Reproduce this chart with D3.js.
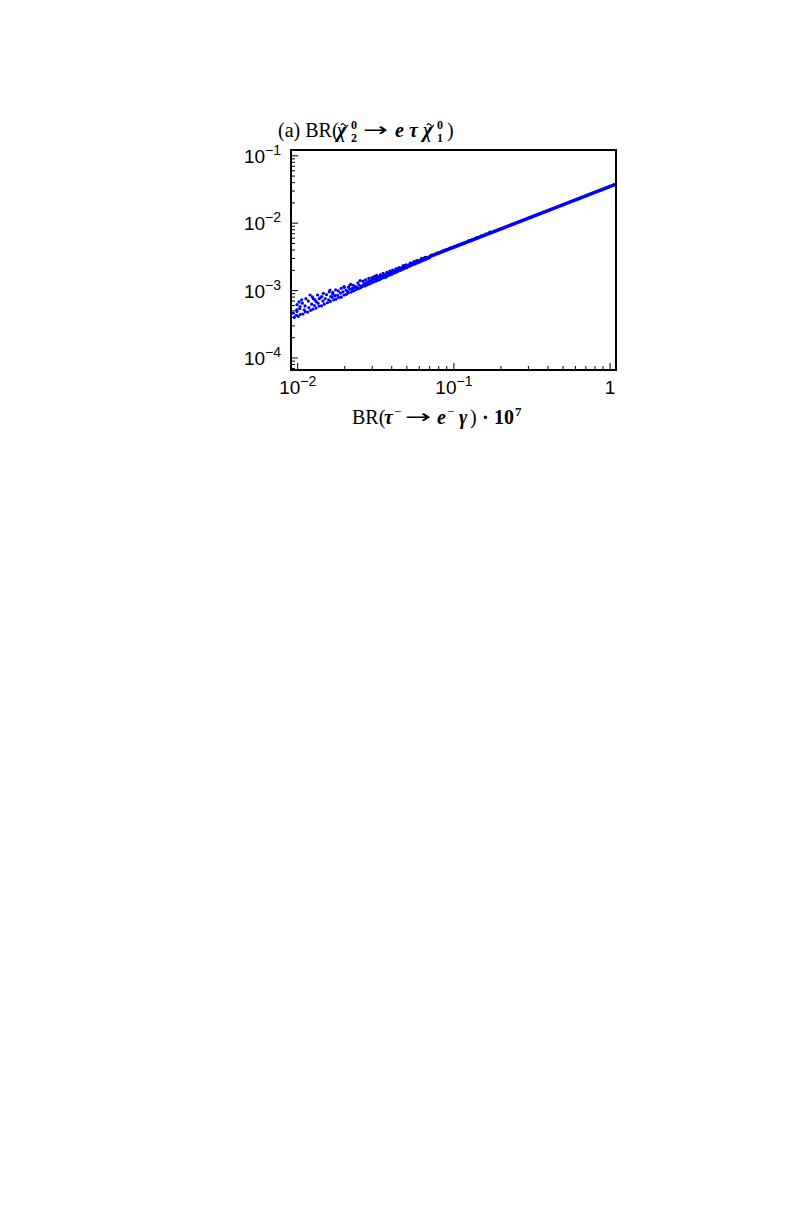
<!DOCTYPE html>
<html><head><meta charset="utf-8">
<script src="https://cdn.jsdelivr.net/npm/d3@7"></script>
<style>body{margin:0;background:#fff}</style>
</head><body>
<svg id="c" width="785" height="1215"></svg>
<script>
// ---- data ----
const xDomain = [0.00906, 1.091];
const yDomain = [6.64e-5, 0.1219];
const xMajor = [0.01, 0.1, 1];
const xTickBase = ["10", "10", "1"];
const xTickExp = ["\u22122", "\u22121", ""];
const yMajor = [1e-4, 1e-3, 1e-2, 1e-1];
const yTickBase = ["10", "10", "10", "10"];
const yTickExp = ["\u22124", "\u22123", "\u22122", "\u22121"];

const lowerBand = [
 [0.0095,4.0e-4],[0.0098,4.3e-4],[0.0101,4.15e-4],[0.0104,4.45e-4],[0.0108,4.5e-4],[0.0112,4.85e-4],
 [0.0116,4.8e-4],[0.0121,5.1e-4],[0.0125,5.3e-4],[0.0131,5.5e-4],[0.0137,5.9e-4],[0.0142,5.95e-4],
 [0.0148,6.3e-4],[0.0155,6.6e-4],[0.0162,6.9e-4],[0.017,7.3e-4],[0.0176,7.5e-4],[0.0183,7.9e-4],
 [0.019,8.0e-4],[0.0198,8.6e-4],[0.0205,8.8e-4],[0.0212,9.3e-4],[0.022,9.5e-4],[0.0228,9.9e-4],
 [0.0236,1.03e-3],[0.0245,1.07e-3],[0.0253,1.1e-3],[0.026,1.15e-3],[0.027,1.17e-3],[0.0278,1.22e-3],
 [0.0287,1.25e-3],[0.0296,1.3e-3],[0.0305,1.34e-3],[0.0315,1.38e-3],[0.0325,1.43e-3],[0.0335,1.46e-3],
 [0.0345,1.52e-3],[0.0356,1.56e-3],[0.0367,1.61e-3],[0.0378,1.66e-3],[0.039,1.71e-3],[0.0402,1.76e-3],
 [0.0415,1.83e-3],[0.0428,1.88e-3],[0.044,1.95e-3],[0.0455,2.0e-3],[0.047,2.07e-3],[0.0485,2.14e-3],
 [0.05,2.2e-3],[0.0515,2.28e-3],[0.053,2.33e-3],[0.0548,2.42e-3],[0.0565,2.48e-3],[0.0582,2.57e-3],
 [0.06,2.64e-3],[0.062,2.74e-3],[0.064,2.82e-3],[0.066,2.9e-3],[0.068,3.0e-3],[0.07,3.08e-3]
];
const middlePoints = [
 [0.0099,4.9e-4],[0.0103,5.4e-4],[0.011,5.2e-4],[0.0118,5.6e-4],[0.0123,6.3e-4],[0.0128,6.0e-4],
 [0.0135,6.5e-4],[0.0145,7.0e-4],[0.015,7.6e-4],[0.0158,7.3e-4],[0.0166,8.0e-4],[0.0173,8.4e-4],
 [0.018,8.5e-4],[0.0188,9.2e-4],[0.0195,9.6e-4],[0.0208,9.7e-4],[0.0215,1.05e-3],[0.0224,1.08e-3],
 [0.0232,1.12e-3],[0.024,1.1e-3],[0.0248,1.2e-3],[0.0265,1.26e-3],[0.0274,1.3e-3],[0.0283,1.36e-3],
 [0.0292,1.4e-3],[0.03,1.45e-3],[0.031,1.5e-3],[0.032,1.52e-3],[0.033,1.6e-3],[0.034,1.62e-3],
 [0.035,1.66e-3],[0.036,1.72e-3],[0.037,1.75e-3],[0.0385,1.8e-3],[0.0395,1.86e-3],[0.041,1.9e-3],
 [0.042,1.97e-3],[0.0435,2.03e-3],[0.045,2.1e-3],[0.0462,2.16e-3],[0.0478,2.2e-3],[0.049,2.3e-3],
 [0.0508,2.36e-3],[0.052,2.42e-3],[0.054,2.5e-3],[0.0555,2.58e-3],[0.0575,2.65e-3],[0.059,2.72e-3],
 [0.061,2.8e-3],[0.063,2.9e-3],[0.065,2.98e-3],[0.067,3.08e-3],[0.069,3.15e-3],
 [0.044,2.15e-3],[0.048,2.35e-3],[0.053,2.55e-3],[0.057,2.75e-3],[0.062,2.95e-3],[0.066,3.12e-3]
];
const upperStrand = [
 [0.0099,6.2e-4],[0.0102,6.8e-4],[0.0107,6.5e-4],[0.0113,7.6e-4],[0.0117,7.0e-4],[0.0124,8.1e-4],
 [0.0129,7.3e-4],[0.0134,8.6e-4],[0.014,7.9e-4],[0.0146,9.1e-4],[0.0153,8.7e-4],[0.0159,9.6e-4],
 [0.0168,9.4e-4],[0.0175,1.03e-3],[0.0182,9.9e-4],[0.019,1.08e-3],[0.0198,1.15e-3],[0.0211,1.13e-3],
 [0.0219,1.24e-3],[0.0227,1.2e-3],[0.0243,1.3e-3],[0.0262,1.38e-3],[0.0272,1.45e-3],[0.0285,1.52e-3],
 [0.0298,1.55e-3],[0.0308,1.62e-3],[0.032,1.68e-3],[0.0338,1.72e-3],[0.0352,1.8e-3],[0.0372,1.86e-3],
 [0.0388,1.95e-3],[0.0405,2.02e-3],[0.0425,2.1e-3],[0.0448,2.2e-3],[0.0472,2.32e-3],[0.0495,2.42e-3],
 [0.0525,2.55e-3],[0.0555,2.7e-3],[0.0585,2.82e-3],[0.062,3.0e-3],[0.065,3.1e-3]
];
const upperPoints = [
 [0.00937,4.62e-4],[0.00986,5.18e-4],[0.01035,5.8e-4],[0.0106,7.3e-4],[0.01114,5.93e-4],[0.012,8.6e-4],
 [0.01259,7.6e-4],[0.0131,6.87e-4],[0.01375,7.6e-4],[0.01425,8.15e-4],[0.0161,1.02e-3],[0.01626,8.15e-4],
 [0.01675,8.93e-4],[0.01986,1.12e-3],[0.0204,1.02e-3],[0.0216,1.21e-3],[0.0221,1.05e-3],[0.0236,1.15e-3],
 [0.0251,1.41e-3],[0.0257,1.17e-3],[0.0313,1.58e-3],[0.0328,1.44e-3],[0.0345,1.65e-3],[0.0367,1.58e-3],
 [0.0409,1.91e-3]
];
const bandPoints = [
 [0.072,3.35e-3],[0.075,3.4e-3],[0.078,3.6e-3],[0.082,3.7e-3],[0.086,3.95e-3],[0.09,4.05e-3],
 [0.095,4.3e-3],[0.1,4.45e-3],[0.106,4.75e-3],[0.112,4.9e-3],[0.118,5.2e-3],[0.125,5.5e-3],
 [0.132,5.7e-3],[0.14,6.1e-3],[0.15,6.5e-3],[0.16,6.9e-3],[0.17,7.4e-3]
];
const bandLine = [[0.0708,3.24e-3],[1.109,3.85e-2]];

// ---- layout ----
const L = 291, R = 616, T = 150, B = 370;
const svg = d3.select("#c");
const x = d3.scaleLog().domain(xDomain).range([L, R]);
const y = d3.scaleLog().domain(yDomain).range([B, T]);
const blue = "#0000ff";

svg.append("defs").append("clipPath").attr("id","clip")
  .append("rect").attr("x",L).attr("y",T).attr("width",R-L).attr("height",B-T);

const plot = svg.append("g").attr("clip-path","url(#clip)");
plot.append("path").datum(bandLine)
  .attr("d", d3.line().x(d=>x(d[0])).y(d=>y(d[1])))
  .attr("fill","none").attr("stroke",blue).attr("stroke-width",3.6).attr("stroke-linecap","round");
const allPts = lowerBand.concat(middlePoints, upperStrand, upperPoints, bandPoints);
plot.selectAll("circle").data(allPts).enter().append("circle")
  .attr("cx",d=>x(d[0])).attr("cy",d=>y(d[1])).attr("r",1.6).attr("fill",blue);

// ticks
const isMajor = v => Math.abs(Math.log10(v) - Math.round(Math.log10(v))) < 1e-6;
const xt = x.ticks().filter(v => v >= xDomain[0] && v <= xDomain[1]);
svg.append("g").selectAll("line").data(xt).enter().append("line")
  .attr("x1",d=>x(d)).attr("x2",d=>x(d)).attr("y1",B).attr("y2",d=>B-(isMajor(d)?7:4))
  .attr("stroke","#000").attr("stroke-width",1);
const yt = y.ticks().filter(v => v >= yDomain[0] && v <= yDomain[1]);
svg.append("g").selectAll("line").data(yt).enter().append("line")
  .attr("y1",d=>y(d)).attr("y2",d=>y(d)).attr("x1",L).attr("x2",d=>L+(isMajor(d)?7:4))
  .attr("stroke","#000").attr("stroke-width",1);

// frame
svg.append("rect").attr("x",L).attr("y",T).attr("width",R-L).attr("height",B-T)
  .attr("fill","none").attr("stroke","#000").attr("stroke-width",2);

// tick labels
const sans = "Liberation Sans, Arial, sans-serif";
xMajor.forEach((v,i)=>{
  const t = svg.append("text").attr("x",x(v)).attr("y",394).attr("text-anchor","middle")
    .attr("font-family",sans).attr("font-size",19);
  t.append("tspan").text(xTickBase[i]);
  if (xTickExp[i]) t.append("tspan").attr("dy",-8).attr("font-size",14).text(xTickExp[i]);
});
yMajor.forEach((v,i)=>{
  const t = svg.append("text").attr("x",281).attr("y",y(v)+7).attr("text-anchor","end")
    .attr("font-family",sans).attr("font-size",19);
  t.append("tspan").text(yTickBase[i]);
  t.append("tspan").attr("dy",-8).attr("font-size",14).text(yTickExp[i]);
});

// text helper
const serifF = "Liberation Serif, serif";
function piece(x0, y0, txt, opts={}) {
  return svg.append("text").attr("x",x0).attr("y",y0)
    .attr("font-family", opts.family || serifF)
    .attr("font-size", opts.size || 20)
    .attr("font-weight", opts.bold ? "bold" : "normal")
    .attr("font-style", opts.italic ? "italic" : "normal")
    .text(txt);
}
function arrow(x0, y0, w) {
  piece(x0, y0, "\u2192", {family:"DejaVu Sans, sans-serif", size:19})
    .attr("textLength", w).attr("lengthAdjust","spacingAndGlyphs");
}
function chiTilde(x0, y0) {
  piece(x0, y0, "\u03C7", {bold:true, italic:true});
  // tilde accent drawn as a small wave above the chi
  const ax = x0 + 4, ay = y0 - 13;
  svg.append("path")
    .attr("d", `M${ax},${ay+1} q1.75,-2.6 3.5,0 t3.5,0`)
    .attr("fill","none").attr("stroke","#000").attr("stroke-width",1.2);
}
// title
const ty = 137;
piece(278, ty, "(a) BR(");
chiTilde(337, ty);
piece(351, ty+5, "2", {bold:true, size:12});
piece(351, ty-8, "0", {bold:true, size:12});
arrow(363, ty-1, 25);
piece(395, ty, "e", {bold:true, italic:true});
piece(409, ty, "\u03C4", {bold:true, italic:true});
chiTilde(423, ty);
piece(437, ty+5, "1", {bold:true, size:12});
piece(437, ty-8, "0", {bold:true, size:12});
piece(447, ty, ")");

// x axis title
const ay = 424;
piece(352, ay, "BR(");
piece(384, ay, "\u03C4", {bold:true, italic:true});
piece(394, ay-8, "\u2212", {size:13});
arrow(405, ay-1, 26);
piece(437, ay, "e", {bold:true, italic:true});
piece(447, ay-8, "\u2212", {size:13});
piece(459, ay, "\u03B3", {bold:true, italic:true});
piece(470, ay, ")");
piece(482, ay, "\u00B7", {bold:true});
piece(494, ay, "10", {bold:true});
piece(515, ay-8, "7", {bold:true, size:13});
</script>
</body></html>
